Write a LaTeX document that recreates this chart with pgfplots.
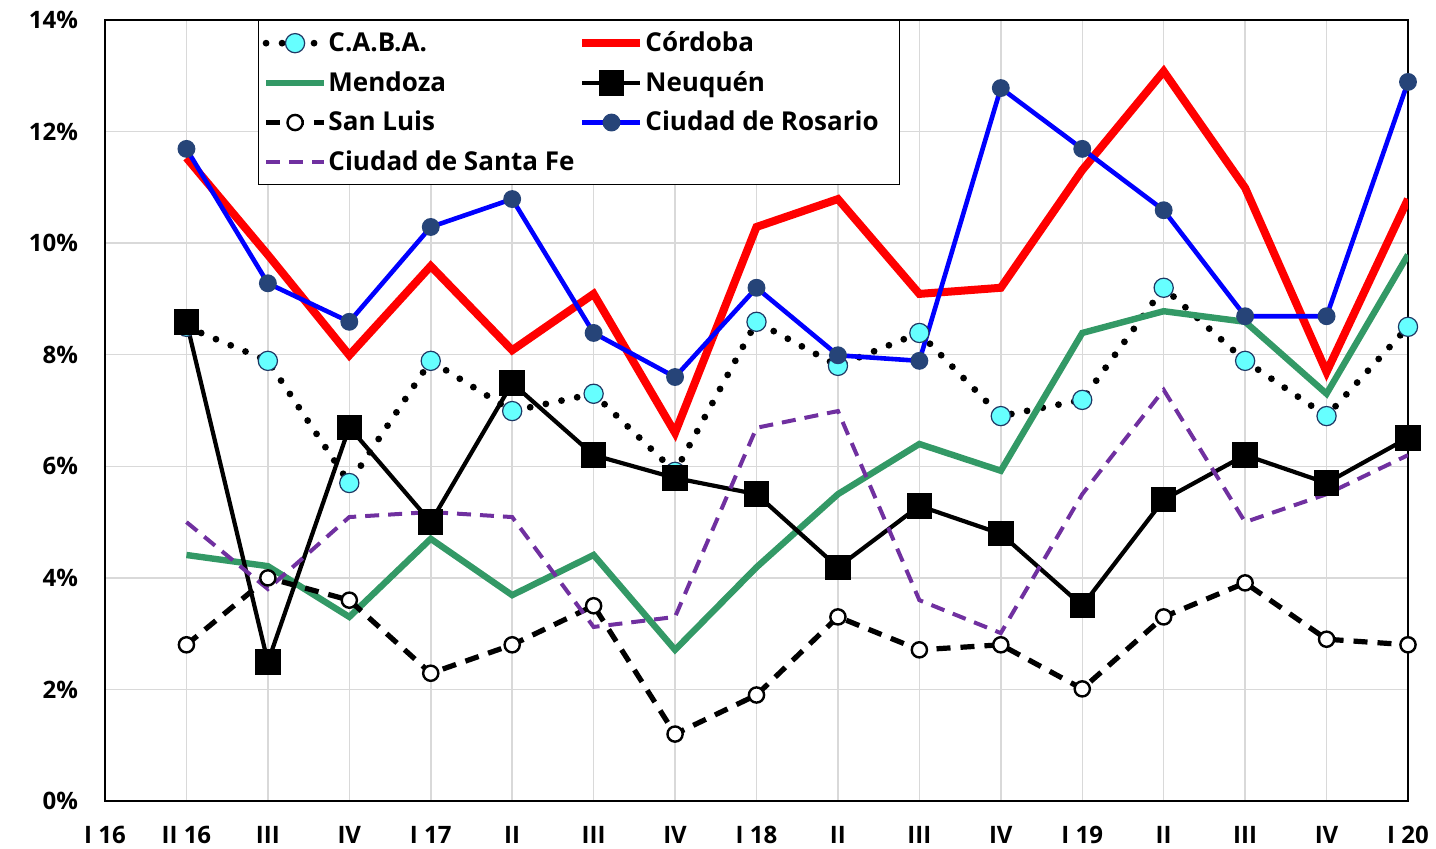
\documentclass[border=0pt]{standalone}
\usepackage{fontspec}
\setmainfont{Open Sans}
\usepackage{pgfplots}
\pgfplotsset{compat=1.18}
\definecolor{cabacyan}{HTML}{66FFFF}
\definecolor{cabaedge}{HTML}{1F3864}
\definecolor{mendgreen}{HTML}{339966}
\definecolor{rosnavy}{HTML}{264478}
\definecolor{sfpurple}{HTML}{7030A0}
\definecolor{gridgray}{HTML}{D9D9D9}
\begin{document}
\begin{tikzpicture}
\begin{axis}[
  at={(0,0)}, anchor=south west,
  scale only axis, width=651.5pt, height=390.5pt,
  xmin=0, xmax=16, ymin=0, ymax=14,
  xtick={0,...,16},
  xticklabels={I 16, II 16, III, IV, I 17, II, III, IV, I 18, II, III, IV, I 19, II, III, IV, I 20},
  ytick={0,2,...,14},
  yticklabels={0\%,2\%,4\%,6\%,8\%,10\%,12\%,14\%},
  major tick length=0pt,
  grid=major,
  major grid style={gridgray, line width=0.75pt},
  axis line style={black, line width=0.9pt},
  /pgf/number format/assume math mode=true,
  tick label style={font=\fontsize{12}{14}\selectfont\bfseries},
  xticklabel style={yshift=-9pt},
  yticklabel style={xshift=-10pt},
  legend columns=2,
  legend cell align=left,
  legend style={at={(0.1174,1)}, anchor=north west, draw=black, line width=0.7pt,
    font=\fontsize{13}{15}\selectfont\bfseries, row sep=4.4pt,
    inner xsep=2pt, inner ysep=3.5pt,
    nodes={inner xsep=0.5pt},
    /tikz/every even column/.append style={column sep=1.5pt}},
  legend image code/.code={\draw[mark repeat=2,mark phase=2] plot coordinates {(0pt,0pt) (14.5pt,0pt) (29pt,0pt)};},
]
% C.A.B.A.
\addplot[black, line width=3.4pt, line cap=round, dash pattern=on 0pt off 8pt,
  mark=*, mark size=4.8pt, mark options={solid, fill=cabacyan, draw=cabaedge, line width=0.6pt}]
  coordinates {(1,8.50)(2,7.89)(3,5.70)(4,7.89)(5,6.99)(6,7.30)(7,5.90)(8,8.59)(9,7.80)(10,8.39)(11,6.90)(12,7.19)(13,9.20)(14,7.89)(15,6.90)(16,8.50)};
\addlegendentry{C.A.B.A.}
% Cordoba
\addplot[red, line width=4pt, no marks]
  coordinates {(1,11.53)(2,9.79)(3,7.99)(4,9.59)(5,8.08)(6,9.09)(7,6.60)(8,10.29)(9,10.79)(10,9.09)(11,9.20)(12,11.31)(13,13.08)(14,10.99)(15,7.69)(16,10.79)};
\addlegendentry{Córdoba}
% Mendoza
\addplot[mendgreen, line width=3.2pt, no marks]
  coordinates {(1,4.41)(2,4.21)(3,3.30)(4,4.70)(5,3.69)(6,4.41)(7,2.71)(8,4.19)(9,5.50)(10,6.40)(11,5.92)(12,8.39)(13,8.78)(14,8.59)(15,7.30)(16,9.79)};
\addlegendentry{Mendoza}
% Neuquen
\addplot[black, line width=2.1pt, mark=square*, mark size=5.3pt, mark options={solid, fill=black}]
  coordinates {(1,8.59)(2,2.49)(3,6.70)(4,5.00)(5,7.49)(6,6.20)(7,5.79)(8,5.50)(9,4.19)(10,5.29)(11,4.79)(12,3.50)(13,5.40)(14,6.20)(15,5.70)(16,6.51)};
\addlegendentry{Neuquén}
% San Luis
\addplot[black, line width=2.6pt, dash pattern=on 7pt off 5pt,
  mark=*, mark size=3.8pt, mark options={solid, fill=white, draw=black, line width=1.2pt}]
  coordinates {(1,2.80)(2,4.00)(3,3.60)(4,2.29)(5,2.80)(6,3.50)(7,1.20)(8,1.90)(9,3.30)(10,2.71)(11,2.80)(12,2.01)(13,3.30)(14,3.91)(15,2.90)(16,2.80)};
\addlegendentry{San Luis}
% Rosario
\addplot[blue, line width=2.3pt, mark=*, mark size=3.3pt, mark options={solid, fill=rosnavy, draw=rosnavy}]
  coordinates {(1,11.69)(2,9.28)(3,8.59)(4,10.29)(5,10.79)(6,8.39)(7,7.60)(8,9.20)(9,7.99)(10,7.89)(11,12.78)(12,11.69)(13,10.59)(14,8.69)(15,8.69)(16,12.89)};
\addlegendentry{Ciudad de Rosario\hspace*{8pt}}
% Santa Fe
\addplot[sfpurple, line width=2pt, dash pattern=on 7pt off 4.5pt, no marks]
  coordinates {(1,5.00)(2,3.80)(3,5.09)(4,5.18)(5,5.09)(6,3.12)(7,3.30)(8,6.69)(9,6.99)(10,3.60)(11,3.01)(12,5.50)(13,7.37)(14,5.00)(15,5.50)(16,6.20)};
\addlegendentry{Ciudad de Santa Fe}
\end{axis}
\pgfresetboundingbox
\path[use as bounding box] (-52.5pt,-23.5pt) rectangle (665.5pt,400.5pt);
\end{tikzpicture}
\end{document}
